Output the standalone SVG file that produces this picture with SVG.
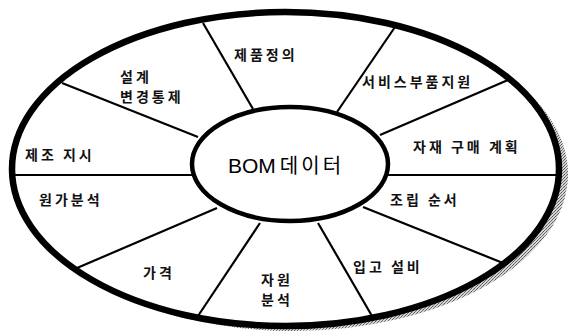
<svg xmlns="http://www.w3.org/2000/svg" width="570" height="332" viewBox="0 0 570 332">
  <defs>
    <pattern id="dither" width="3" height="3" patternUnits="userSpaceOnUse">
      <rect width="3" height="3" fill="#d4d4d4"/>
      <rect x="0" y="0" width="1" height="1" fill="#555"/>
      <rect x="2" y="1" width="1" height="1" fill="#666"/>
      <rect x="1" y="2" width="1" height="1" fill="#777"/>
    </pattern>
    <style>
      .lbl { font-family: "Noto Sans CJK KR", "Noto Sans", sans-serif; font-size: 14px; font-weight: bold; fill: #111; letter-spacing: 3px; }
      .div { stroke: #000; stroke-width: 2.2; fill: none; }
    </style>
  </defs>
  <rect width="570" height="332" fill="#fff"/>
  <g id="outer">
    <ellipse cx="293" cy="174" rx="275" ry="157" fill="url(#dither)"/>
    <ellipse cx="285.5" cy="169" rx="273.5" ry="157" fill="#fff" stroke="#000" stroke-width="6.5"/>
  </g>
  <g id="connectors">
    <line class="div" x1="203" y1="23" x2="253" y2="109"/>
    <line class="div" x1="395" y1="27" x2="337" y2="112"/>
    <line class="div" x1="508" y1="80" x2="380" y2="135"/>
    <line class="div" x1="388" y1="175" x2="559" y2="175"/>
    <line class="div" x1="363" y1="207" x2="503" y2="263"/>
    <line class="div" x1="318" y1="223" x2="372" y2="316"/>
    <line class="div" x1="260" y1="223" x2="198" y2="316"/>
    <line class="div" x1="217" y1="208" x2="77" y2="268"/>
    <line class="div" x1="13" y1="175" x2="192" y2="175"/>
    <line class="div" x1="62" y1="83" x2="198" y2="137"/>
  </g>
  <g id="center">
    <ellipse cx="290" cy="164" rx="98" ry="57" fill="#fff" stroke="#000" stroke-width="4.5"/>
    <text x="228" y="173" font-family="Liberation Sans, Arial, sans-serif" font-size="21" fill="#000">BOM<tspan font-family="Noto Sans CJK KR, sans-serif" font-size="20" letter-spacing="3" dx="4">데이터</tspan></text>
  </g>
  <g id="n-design"><text class="lbl" x="120" y="82">설계</text><text class="lbl" x="120" y="102">변경통제</text></g>
  <g id="n-product"><text class="lbl" x="234" y="60">제품정의</text></g>
  <g id="n-service"><text class="lbl" x="362" y="87">서비스부품지원</text></g>
  <g id="n-purchase"><text class="lbl" x="413" y="152">자재 구매 계획</text></g>
  <g id="n-assembly"><text class="lbl" x="390" y="205">조립 순서</text></g>
  <g id="n-facility"><text class="lbl" x="353" y="272">입고 설비</text></g>
  <g id="n-resource"><text class="lbl" x="261" y="285">자원</text><text class="lbl" x="261" y="305">분석</text></g>
  <g id="n-price"><text class="lbl" x="143" y="278">가격</text></g>
  <g id="n-cost"><text class="lbl" x="39" y="205">원가분석</text></g>
  <g id="n-mfg"><text class="lbl" x="25" y="160">제조 지시</text></g>
</svg>
